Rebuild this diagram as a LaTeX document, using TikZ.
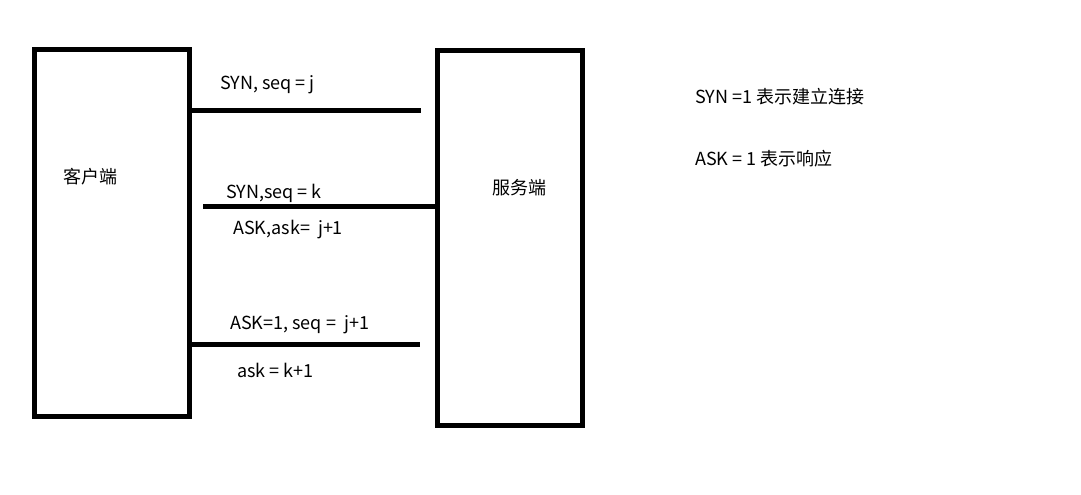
\documentclass[tikz,border=0pt]{standalone}
\usepackage{fontspec}
\setmainfont{Noto Sans CJK SC}
\usetikzlibrary{positioning,calc}

\begin{document}
\begin{tikzpicture}[x=1pt, y=-1pt,
  every box/.style={draw, line width=5pt, rectangle, inner sep=0, outer sep=0},
  every msg/.style={draw, line width=5pt},
  every label text/.style={anchor=base west, inner sep=0, font=\fontsize{18}{20}\selectfont}]

\useasboundingbox (0,0) rectangle (1081,495);

% the two ends
\node [every box/.try, minimum width=155pt, minimum height=366.5pt] (client) at (112,232.75) {};
\node [every box/.try, minimum width=145pt, minimum height=375pt] (server) at (510,238) {};

\node [every label text/.try] (client-name) at (63,183) {客户端};
\node [every label text/.try] (server-name) at (492,194) {服务端};

% the three messages
\coordinate (msg-1) at (421,110);
\coordinate (msg-2) at (203,206);
\coordinate (msg-3) at (420,344);

\draw [every msg/.try] (client.east |- msg-1) -- (msg-1);
\draw [every msg/.try] (msg-2) -- (server.west |- msg-2);
\draw [every msg/.try] (client.east |- msg-3) -- (msg-3);

\foreach \t/\x/\y [count=\i] in {{SYN, seq = j}/220/89,
    {SYN,seq = k}/226/198, {ASK,ask=\ \ j+1}/233/234,
    {ASK=1, seq =\ \ j+1}/230/329, {ask = k+1}/237/377}
  \node [every label text/.try] (text-\i) at (\x,\y) {\t};

% legend
\node [every label text/.try] (legend-syn) at (695,103) {SYN =1 表示建立连接};
\node [every label text/.try] (legend-ask) at (695,165) {ASK = 1 表示响应};

\end{tikzpicture}
\end{document}
